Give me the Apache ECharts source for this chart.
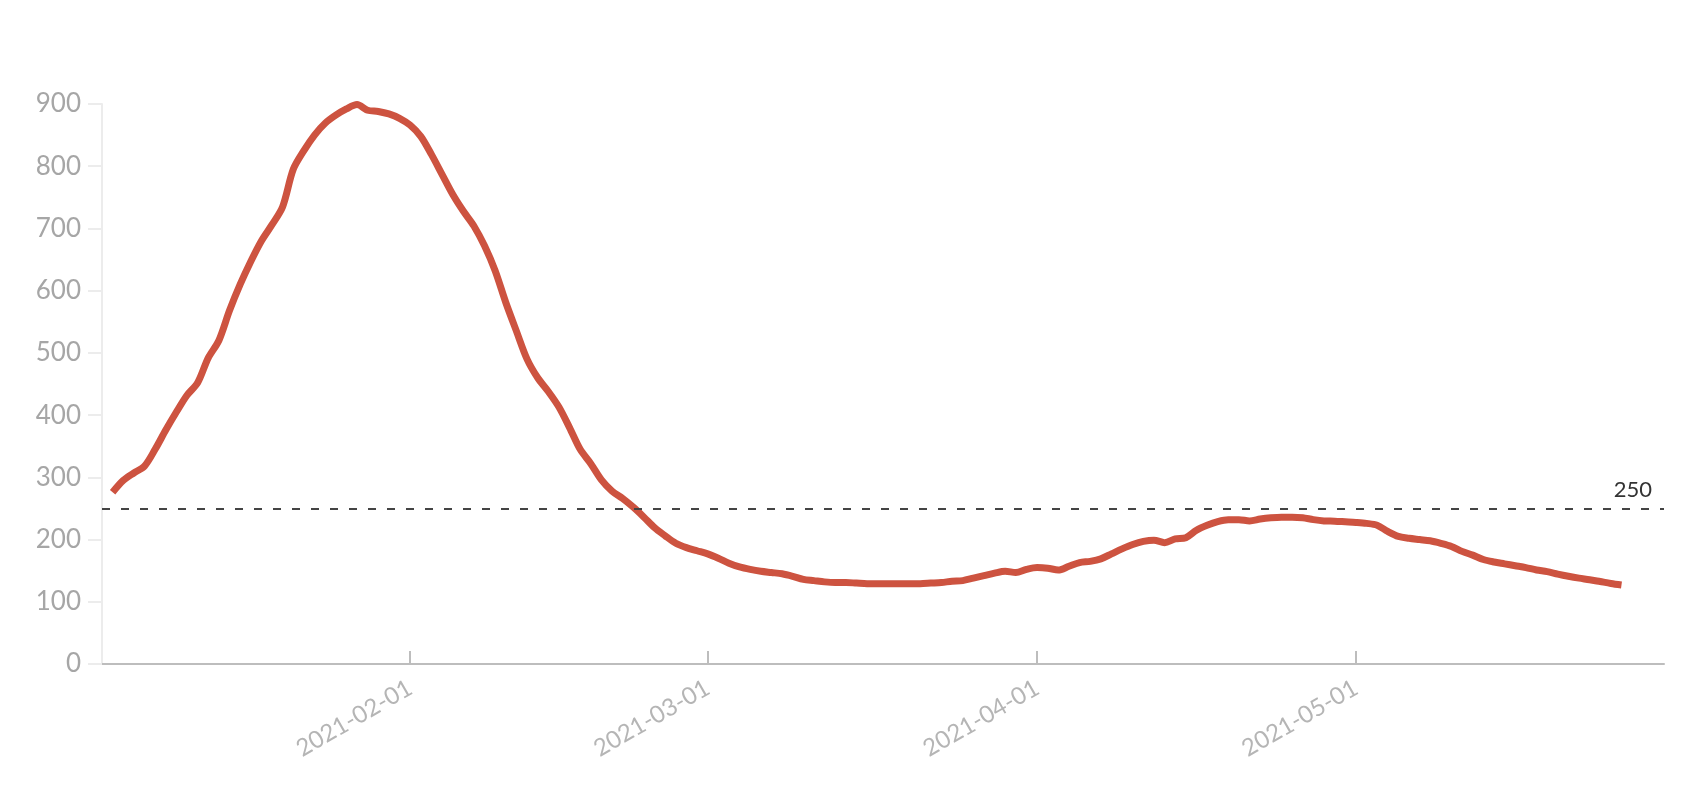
<!DOCTYPE html>
<html>
<head>
<meta charset="utf-8">
<script src="https://cdn.jsdelivr.net/npm/echarts@6/dist/echarts.min.js"></script>
<style>
  html, body { margin: 0; padding: 0; background: #ffffff; }
  #chart { width: 1692px; height: 796px; }
</style>
</head>
<body>
<div id="chart"></div>
<script>
const dates = [
  '2021-01-04','2021-01-05','2021-01-06','2021-01-07','2021-01-08','2021-01-09','2021-01-10','2021-01-11','2021-01-12','2021-01-13',
  '2021-01-14','2021-01-15','2021-01-16','2021-01-17','2021-01-18','2021-01-19','2021-01-20','2021-01-21','2021-01-22','2021-01-23',
  '2021-01-24','2021-01-25','2021-01-26','2021-01-27','2021-01-28','2021-01-29','2021-01-30','2021-01-31',
  '2021-02-01','2021-02-02','2021-02-03','2021-02-04','2021-02-05','2021-02-06','2021-02-07','2021-02-08','2021-02-09','2021-02-10',
  '2021-02-11','2021-02-12','2021-02-13','2021-02-14','2021-02-15','2021-02-16','2021-02-17','2021-02-18','2021-02-19','2021-02-20',
  '2021-02-21','2021-02-22','2021-02-23','2021-02-24','2021-02-25','2021-02-26','2021-02-27','2021-02-28',
  '2021-03-01','2021-03-02','2021-03-03','2021-03-04','2021-03-05','2021-03-06','2021-03-07','2021-03-08','2021-03-09','2021-03-10',
  '2021-03-11','2021-03-12','2021-03-13','2021-03-14','2021-03-15','2021-03-16','2021-03-17','2021-03-18','2021-03-19','2021-03-20',
  '2021-03-21','2021-03-22','2021-03-23','2021-03-24','2021-03-25','2021-03-26','2021-03-27','2021-03-28','2021-03-29','2021-03-30','2021-03-31',
  '2021-04-01','2021-04-02','2021-04-03','2021-04-04','2021-04-05','2021-04-06','2021-04-07','2021-04-08','2021-04-09','2021-04-10',
  '2021-04-11','2021-04-12','2021-04-13','2021-04-14','2021-04-15','2021-04-16','2021-04-17','2021-04-18','2021-04-19','2021-04-20',
  '2021-04-21','2021-04-22','2021-04-23','2021-04-24','2021-04-25','2021-04-26','2021-04-27','2021-04-28','2021-04-29','2021-04-30',
  '2021-05-01','2021-05-02','2021-05-03','2021-05-04','2021-05-05','2021-05-06','2021-05-07','2021-05-08','2021-05-09','2021-05-10',
  '2021-05-11','2021-05-12','2021-05-13','2021-05-14','2021-05-15','2021-05-16','2021-05-17','2021-05-18','2021-05-19','2021-05-20',
  '2021-05-21','2021-05-22','2021-05-23','2021-05-24','2021-05-25','2021-05-26'
];

const values = [
  276, 295, 307, 318, 345, 376, 405, 432, 452, 492, 520, 568, 610, 647, 680, 706, 735, 795, 825, 850, 869, 882, 892, 899, 890, 888, 884, 877,
  866, 848, 819, 787, 755, 728, 704, 672, 632, 581, 535, 490, 460, 438, 413, 380, 345, 322, 296, 278, 266, 252, 236, 219, 206, 194, 187, 182,
  177, 170, 162, 156, 152, 149, 147, 145, 141, 136, 134, 132, 131, 131, 130, 129, 129, 129, 129, 129, 129, 130, 131, 133, 134, 138, 142, 146, 149, 147, 152,
  155, 154, 151, 157, 163, 165, 169, 177, 185, 192, 197, 199, 195, 201, 203, 215, 223, 229, 232, 232, 230, 233, 235, 236, 236, 235, 232, 230, 229.5, 228.5,
  227.5, 226, 223, 213, 205, 202, 200, 198, 194, 189, 181, 175, 168, 164, 161, 158, 155, 151, 148.5, 144.5, 141, 138, 135.5, 132.5, 129.5, 127
];

const xTickDates = ['2021-02-01', '2021-03-01', '2021-04-01', '2021-05-01'];
const xRange = ['2021-01-03', '2021-05-30'];
const yTicks = [0, 100, 200, 300, 400, 500, 600, 700, 800, 900];
const thresholdValue = 250;
const thresholdLabel = '250';

function toUTC(s) {
  const p = s.split('-').map(Number);
  return Date.UTC(p[0], p[1] - 1, p[2]);
}
function pad(n) { return (n < 10 ? '0' : '') + n; }
function fmt(v) {
  const d = new Date(v);
  return d.getUTCFullYear() + '-' + pad(d.getUTCMonth() + 1) + '-' + pad(d.getUTCDate());
}

const seriesData = dates.map((d, i) => [toUTC(d), values[i]]);
const tickValues = xTickDates.map(toUTC);

const chart = echarts.init(document.getElementById('chart'), null, { renderer: 'canvas' });
chart.setOption({
  animation: false,
  backgroundColor: '#ffffff',
  grid: { left: 102, right: 28, top: 104, bottom: 132, containLabel: false },
  xAxis: {
    type: 'value',
    min: toUTC(xRange[0]),
    max: toUTC(xRange[1]),
    scale: true,
    axisLine: { show: true, lineStyle: { color: '#bdbdbd', width: 2 } },
    axisTick: { show: true, inside: true, length: 13, customValues: tickValues, lineStyle: { color: '#bdbdbd', width: 2 } },
    axisLabel: {
      customValues: tickValues,
      formatter: fmt,
      rotate: 30,
      margin: 22,
      color: '#b5b5b5',
      fontFamily: 'Lato',
      fontSize: 24,
      showMinLabel: true,
      showMaxLabel: true
    },
    splitLine: { show: false }
  },
  yAxis: {
    type: 'value',
    min: yTicks[0],
    max: yTicks[yTicks.length - 1],
    interval: 100,
    axisLine: { show: true, lineStyle: { color: '#ececec', width: 2 } },
    axisTick: { show: true, length: 14, lineStyle: { color: '#ececec', width: 2 } },
    axisLabel: { color: '#a6a6a6', fontFamily: 'Lato', fontSize: 26, margin: 21 },
    splitLine: { show: false }
  },
  series: [{
    type: 'line',
    data: seriesData,
    showSymbol: false,
    symbol: 'none',
    smooth: 0.3,
    lineStyle: { color: '#cd5340', width: 7, join: 'round', cap: 'butt' },
    markLine: {
      silent: true,
      symbol: ['none', 'none'],
      lineStyle: { color: '#444444', width: 2, type: [8, 11] },
      label: {
        show: true,
        position: 'insideEndTop',
        formatter: thresholdLabel,
        color: '#333333',
        fontFamily: 'Lato',
        fontSize: 22,
        distance: [12, 8]
      },
      data: [{ yAxis: thresholdValue }]
    }
  }]
});
</script>
</body>
</html>
